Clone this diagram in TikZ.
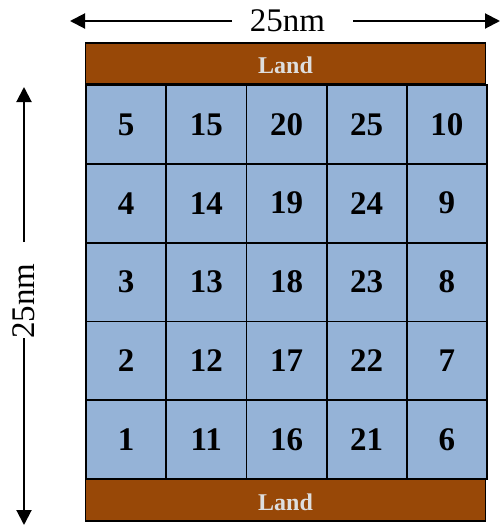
\documentclass[tikz,border=0pt]{standalone}
\usepackage{fontspec}
\setmainfont{Liberation Serif}
\usepackage{xcolor}
\usepackage{tikz}
\usetikzlibrary{positioning}
\usetikzlibrary{arrows.meta}
\usetikzlibrary{calc}

\definecolor{landbrown}{HTML}{984807}
\definecolor{cellblue}{HTML}{95B3D7}
\definecolor{landtext}{RGB}{222,222,222}

\begin{document}
\begin{tikzpicture}[x=1pt, y=-1pt, >={Triangle[length=15pt,width=15pt]}]

\tikzset{%
    every cell/.style = {
        rectangle,
        draw,
        line width=1.8pt,
        fill=cellblue,
        minimum width=80.2pt,
        minimum height=78.8pt,
        inner sep=0pt,
        font=\fontsize{33}{33}\selectfont\bfseries
    },
    land/.style = {
        rectangle,
        draw,
        line width=1.8pt,
        fill=landbrown,
        text=landtext,
        minimum width=400pt,
        minimum height=41pt,
        inner sep=0pt,
        text height=20pt,
        text depth=0pt,
        font=\fontsize{24}{24}\selectfont\bfseries
    },
    dimension/.style = {
        inner sep=0pt,
        font=\fontsize{33}{33}\selectfont
    },
    dimline/.style = {
        ->,
        line width=2pt
    }
}

\useasboundingbox (0,0) rectangle (500,525);

% cells, column by column
\foreach \b [count=\c from 0] in {0,10,15,20,5}
  \foreach \r in {0,...,4}
  {
    \pgfmathtruncatemacro{\n}{\b+\r+1}
    \node [every cell] (cell-\n) at (86+80.2*\c+40.1, 479-78.8*\r-39.4) {\n};
  }

\node [land] (land-top) at (285.5,63.5) {Land};
\node [land, minimum height=42pt] (land-bottom) at (285.5,500) {Land};

% horizontal length
\node [dimension] (len-top) at (287.5,21) {25nm};
\coordinate (top-left) at (70,21);
\coordinate (top-right) at (500,21);
\coordinate (top-gap-left) at (232,21);
\coordinate (top-gap-right) at (353,21);
\draw [dimline] (top-gap-left) -- (top-left);
\draw [dimline] (top-gap-right) -- (top-right);

% vertical length
\node [dimension, rotate=90] (len-left) at (24,301) {25nm};
\coordinate (left-top) at (24,87);
\coordinate (left-bottom) at (24,525);
\coordinate (left-gap-top) at (24,242);
\coordinate (left-gap-bottom) at (24,338);
\draw [dimline] (left-gap-top) -- (left-top);
\draw [dimline] (left-gap-bottom) -- (left-bottom);

\end{tikzpicture}
\end{document}
